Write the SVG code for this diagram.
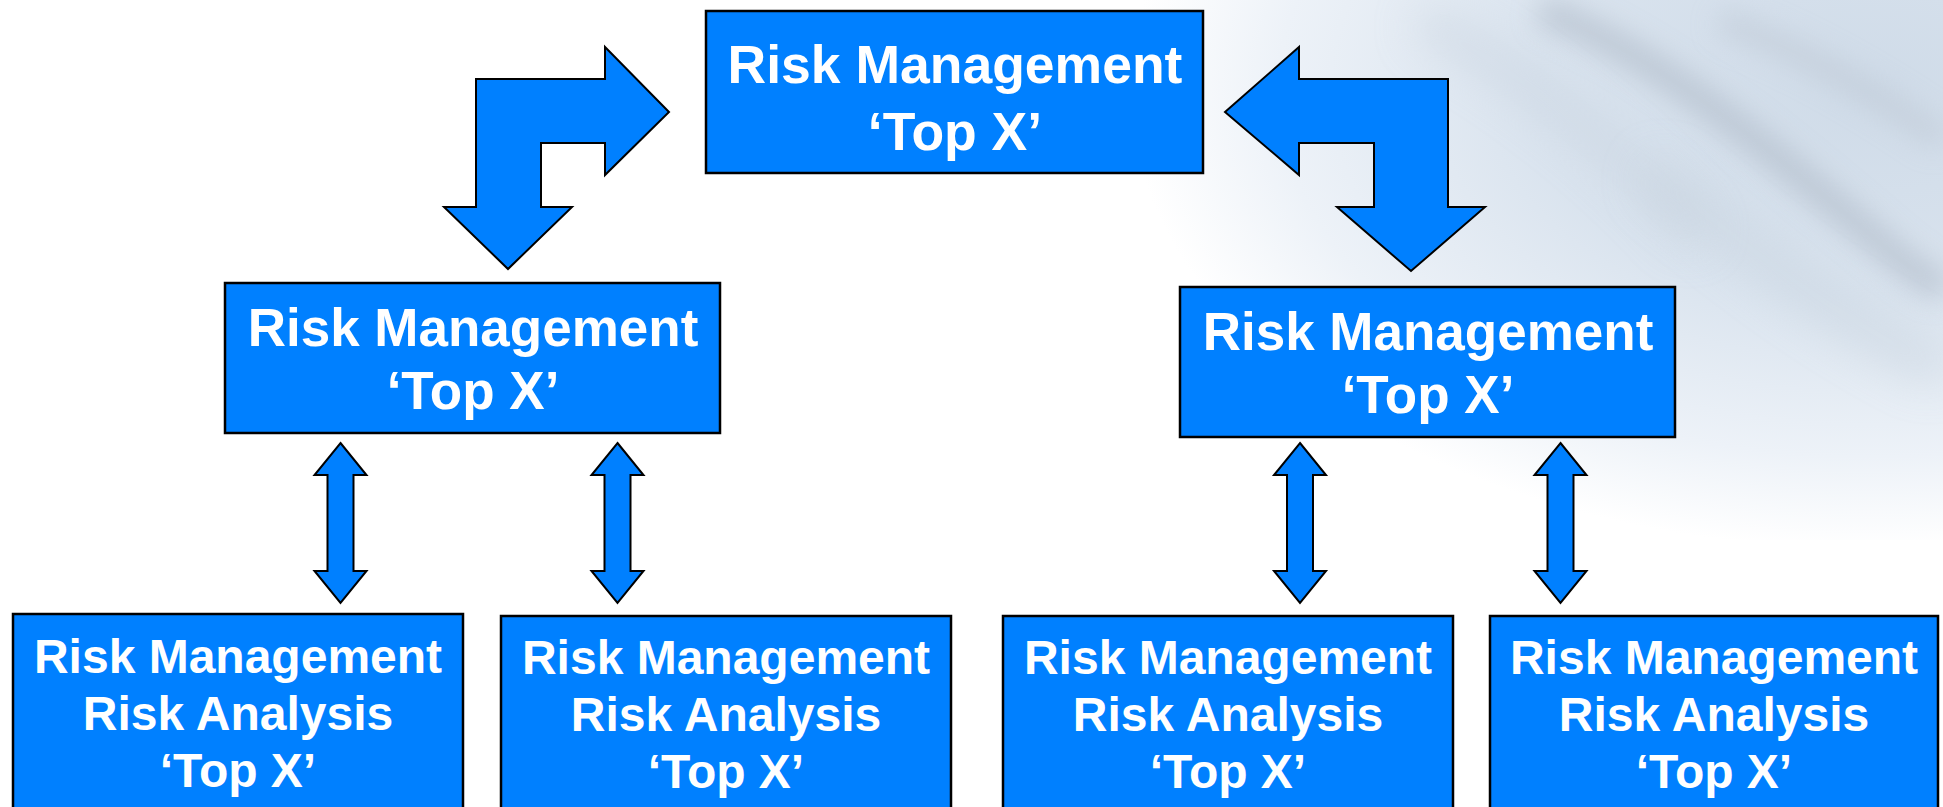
<svg xmlns="http://www.w3.org/2000/svg" xmlns:xlink="http://www.w3.org/1999/xlink" width="1943" height="807" viewBox="0 0 1943 807">
  <defs>
    <radialGradient id="bgGlow" cx="1870" cy="90" r="740" gradientUnits="userSpaceOnUse" gradientTransform="translate(1870 90) scale(1 0.62) translate(-1870 -90)">
      <stop offset="0" stop-color="#cfdbe8"/>
      <stop offset="0.45" stop-color="#d9e3ee"/>
      <stop offset="0.8" stop-color="#edf2f8"/>
      <stop offset="1" stop-color="#ffffff"/>
    </radialGradient>
    <filter id="blur" x="-20%" y="-50%" width="140%" height="200%">
      <feGaussianBlur stdDeviation="14"/>
    </filter>
    <filter id="blur2" x="-20%" y="-50%" width="140%" height="200%">
      <feGaussianBlur stdDeviation="22"/>
    </filter>
    <path id="dbl" d="M0,443 L26,475 L13,475 L13,571 L26,571 L0,603 L-26,571 L-13,571 L-13,475 L-26,475 Z"/>
    <style>
      .box { fill: #0080ff; stroke: #000; stroke-width: 2.5; }
      .arr { fill: #0080ff; stroke: #000; stroke-width: 2; stroke-linejoin: miter; }
      .t { font-family: "Liberation Sans", Arial, sans-serif; font-weight: bold; fill: #ffffff; text-anchor: middle; }
      .t1 { font-size: 53.5px; }
      .t2 { font-size: 53px; }
      .t3 { font-size: 48px; }
    </style>
  </defs>

  <g id="background">
    <rect x="0" y="0" width="1943" height="807" fill="#ffffff"/>
    <rect x="1100" y="0" width="843" height="540" fill="url(#bgGlow)"/>
    <path d="M1540,10 C1650,50 1760,140 1900,260 L1943,290" fill="none" stroke="#b2bdca" stroke-width="26" opacity="0.75" filter="url(#blur)"/>
    <path d="M1720,20 C1800,50 1870,90 1943,140" fill="none" stroke="#bec8d4" stroke-width="24" opacity="0.6" filter="url(#blur)"/>
    <path d="M1420,20 C1520,70 1620,150 1700,240" fill="none" stroke="#c4cfdb" stroke-width="30" opacity="0.5" filter="url(#blur2)"/>
    <path d="M1650,170 C1740,240 1820,310 1943,370" fill="none" stroke="#c6d1dd" stroke-width="34" opacity="0.55" filter="url(#blur2)"/>
  </g>

  <g id="connectors">
    <polygon class="arr" points="476,79 605,79 605,47 669,112 605,175 605,143 541,143 541,207 572,207 508,269 444,207 476,207"/>
    <polygon class="arr" points="1225,112 1299,47 1299,79 1448,79 1448,207 1485,207 1411,271 1337,207 1374,207 1374,143 1299,143 1299,175"/>
    <use xlink:href="#dbl" class="arr" transform="translate(340.5 0)"/>
    <use xlink:href="#dbl" class="arr" transform="translate(617.5 0)"/>
    <use xlink:href="#dbl" class="arr" transform="translate(1300 0)"/>
    <use xlink:href="#dbl" class="arr" transform="translate(1560.5 0)"/>
  </g>

  <g id="node-top">
    <rect class="box" x="706" y="11" width="497" height="162"/>
    <text class="t t1" x="955" y="83">Risk Management</text>
    <text class="t t1" x="955" y="150">‘Top X’</text>
  </g>

  <g id="node-mid-left">
    <rect class="box" x="225" y="283" width="495" height="150"/>
    <text class="t t2" x="473" y="346">Risk Management</text>
    <text class="t t2" x="473" y="409">‘Top X’</text>
  </g>

  <g id="node-mid-right">
    <rect class="box" x="1180" y="287" width="495" height="150"/>
    <text class="t t2" x="1428" y="350">Risk Management</text>
    <text class="t t2" x="1428" y="413">‘Top X’</text>
  </g>

  <g id="node-bottom-1">
    <rect class="box" x="13" y="614" width="450" height="220"/>
    <text class="t t3" x="238" y="673">Risk Management</text>
    <text class="t t3" x="238" y="730">Risk Analysis</text>
    <text class="t t3" x="238" y="787">‘Top X’</text>
  </g>

  <g id="node-bottom-2">
    <rect class="box" x="501" y="616" width="450" height="220"/>
    <text class="t t3" x="726" y="674">Risk Management</text>
    <text class="t t3" x="726" y="731">Risk Analysis</text>
    <text class="t t3" x="726" y="788">‘Top X’</text>
  </g>

  <g id="node-bottom-3">
    <rect class="box" x="1003" y="616" width="450" height="220"/>
    <text class="t t3" x="1228" y="674">Risk Management</text>
    <text class="t t3" x="1228" y="731">Risk Analysis</text>
    <text class="t t3" x="1228" y="788">‘Top X’</text>
  </g>

  <g id="node-bottom-4">
    <rect class="box" x="1490" y="616" width="448" height="220"/>
    <text class="t t3" x="1714" y="674">Risk Management</text>
    <text class="t t3" x="1714" y="731">Risk Analysis</text>
    <text class="t t3" x="1714" y="788">‘Top X’</text>
  </g>
</svg>
